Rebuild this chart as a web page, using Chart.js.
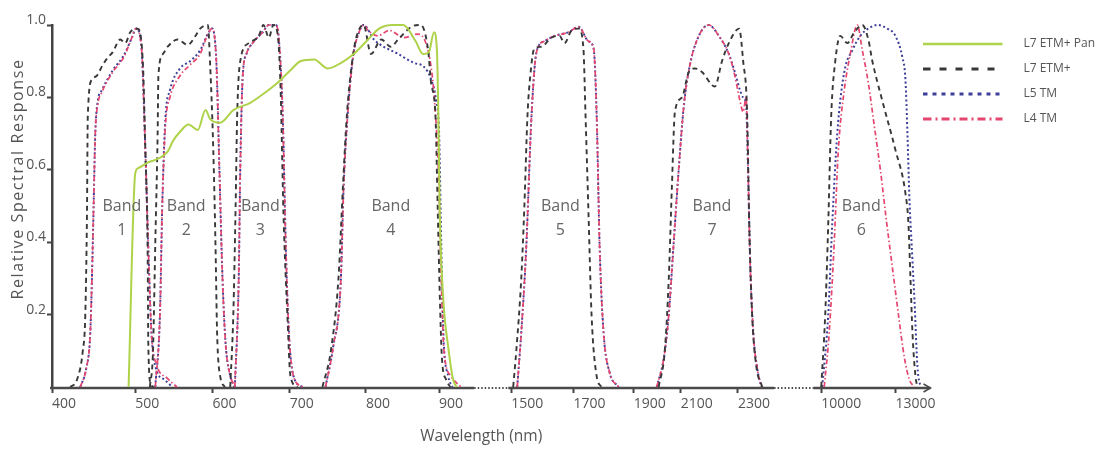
<!DOCTYPE html>
<html>
<head>
<meta charset="utf-8">
<title>Relative Spectral Response</title>
<script src="https://cdn.jsdelivr.net/npm/chart.js@4.4.1/dist/chart.umd.min.js"></script>
<style>
  html, body { margin: 0; padding: 0; background: #fff; }
  canvas { display: block; }
</style>
</head>
<body>
<canvas id="myChart" width="1105" height="450"></canvas>
<script>
// broken wavelength axis: labelled ticks and where they sit along the axis
const xTickNm = [400, 500, 600, 700, 800, 900, 1500, 1700, 1900, 2100, 2300, 10000, 13000];
const xTickPos = [0, 83, 160, 237, 313, 386, 458, 520, 580, 627, 684, 767, 841];
// the two dotted stretches of the axis (start nm, end nm, ...)
const breakNm = [950, 1490, 2425, 9676];
const breakPos = [421, 455, 720, 759];
const AXIS_END = 876;

// band captions
const bandNames = ["1", "2", "3", "4", "5", "7", "6"];
const bandLabelNm = [484, 566, 662, 834, 1658, 2209, 11620];

// [wavelength nm, relative response]
const panBands = [
  [[492, 0], [500, 0.59], [504, 0.605], [516, 0.62], [529, 0.63], [542, 0.65], [549, 0.68], [558, 0.705],
   [569, 0.725], [581, 0.71], [591, 0.765], [597, 0.74], [610, 0.73], [627, 0.765], [649, 0.785], [666, 0.81],
   [684, 0.84], [701, 0.875], [714, 0.9], [732, 0.905], [750, 0.88], [767, 0.895], [784, 0.92], [803, 0.96],
   [818, 0.99], [837, 1.0], [851, 1.0], [868, 0.955], [878, 0.92], [886, 0.925], [893, 0.98], [897, 0.93],
   [899, 0.75], [901, 0.475], [906, 0.24], [913, 0.11], [920, 0.02], [925, 0]],
];

const etmBands = [
  [[422, 0], [430, 0.02], [437, 0.1], [440, 0.2], [442, 0.475], [443, 0.75], [448, 0.85], [454, 0.86],
   [461, 0.89], [467, 0.91], [473, 0.925], [482, 0.96], [488, 0.95], [494, 0.98], [503, 0.99], [510, 0.89],
   [513, 0.66], [516, 0.38], [517, 0.11], [520, 0.01], [524, 0]],
  [[519, 0], [523, 0.1], [526, 0.4], [529, 0.7], [530, 0.86], [536, 0.92], [542, 0.94], [555, 0.96],
   [568, 0.945], [578, 0.97], [584, 0.99], [594, 1.0], [597, 0.89], [601, 0.66], [604, 0.385], [606, 0.15],
   [610, 0.03], [616, 0]],
  [[623, 0], [627, 0.2], [630, 0.5], [632, 0.75], [636, 0.9], [647, 0.95], [660, 0.97], [666, 1.0],
   [673, 0.965], [679, 1.0], [684, 0.98], [688, 0.84], [692, 0.475], [697, 0.2], [701, 0.03], [710, 0]],
  [[743, 0], [754, 0.1], [764, 0.3], [770, 0.56], [775, 0.75], [782, 0.9], [788, 0.97], [797, 1.0],
   [807, 0.92], [821, 0.96], [834, 0.94], [844, 0.96], [862, 0.995], [875, 1.0], [885, 0.93], [889, 0.84],
   [895, 0.75], [898, 0.5], [901, 0.25], [904, 0.08], [910, 0.02], [916, 0]],
  [[1506, 0], [1516, 0.1], [1532, 0.3], [1542, 0.5], [1552, 0.75], [1561, 0.86], [1574, 0.935], [1597, 0.94],
   [1629, 0.965], [1655, 0.97], [1671, 0.95], [1694, 0.985], [1717, 0.99], [1733, 0.935], [1740, 0.75],
   [1750, 0.475], [1760, 0.2], [1777, 0.03], [1793, 0]],
  [[2006, 0], [2032, 0.1], [2049, 0.3], [2062, 0.55], [2075, 0.76], [2104, 0.8], [2128, 0.87], [2149, 0.88],
   [2174, 0.87], [2219, 0.83], [2244, 0.9], [2268, 0.95], [2304, 0.99], [2318, 0.9], [2332, 0.75],
   [2339, 0.45], [2349, 0.2], [2363, 0.06], [2384, 0]],
  [[10000, 0], [10162, 0.2], [10284, 0.45], [10405, 0.75], [10568, 0.9], [10770, 0.97], [11054, 0.95],
   [11338, 0.98], [11662, 1.0], [11905, 0.96], [12068, 0.9], [12473, 0.79], [13000, 0.655], [13405, 0.535],
   [13527, 0.45], [13608, 0.3], [13689, 0.15], [13810, 0.03], [13891, 0]],
];

const l5Bands = [
  [[434, 0], [441, 0.05], [446, 0.15], [448, 0.3], [450, 0.5], [452, 0.7], [455, 0.79], [460, 0.82],
   [473, 0.875], [486, 0.915], [496, 0.965], [501, 0.99], [508, 0.94], [513, 0.66], [517, 0.38], [521, 0.15],
   [527, 0.05], [538, 0.02], [548, 0]],
  [[526, 0], [532, 0.2], [535, 0.5], [539, 0.74], [545, 0.82], [558, 0.88], [571, 0.9], [584, 0.93],
   [594, 0.975], [599, 0.99], [605, 0.9], [609, 0.6], [613, 0.3], [617, 0.12], [622, 0.04], [628, 0]],
  [[629, 0], [634, 0.3], [636, 0.6], [639, 0.85], [644, 0.92], [652, 0.95], [665, 0.98], [673, 1.0],
   [682, 1.0], [686, 0.96], [691, 0.75], [695, 0.385], [699, 0.15], [705, 0.03], [717, 0]],
  [[747, 0], [757, 0.11], [767, 0.29], [771, 0.565], [776, 0.75], [783, 0.91], [791, 0.98], [797, 1.0],
   [811, 0.96], [844, 0.92], [866, 0.895], [879, 0.885], [889, 0.85], [896, 0.79], [900, 0.7], [903, 0.4],
   [906, 0.15], [913, 0.03], [919, 0]],
  [[1519, 0], [1532, 0.15], [1548, 0.385], [1565, 0.75], [1581, 0.925], [1606, 0.955], [1639, 0.97],
   [1684, 0.98], [1717, 0.995], [1750, 0.955], [1767, 0.935], [1777, 0.75], [1787, 0.385], [1800, 0.15],
   [1820, 0.04], [1850, 0]],
  [[1998, 0], [2028, 0.08], [2049, 0.2], [2070, 0.4], [2091, 0.6], [2111, 0.78], [2132, 0.89], [2163, 0.97],
   [2198, 1.0], [2233, 0.97], [2268, 0.92], [2289, 0.87], [2307, 0.82], [2318, 0.8], [2328, 0.78],
   [2335, 0.6], [2342, 0.35], [2353, 0.15], [2367, 0.05], [2381, 0]],
  [[10041, 0], [10284, 0.2], [10446, 0.45], [10649, 0.7], [10932, 0.87], [11257, 0.93], [11581, 0.97],
   [11905, 0.99], [12270, 1.0], [12675, 0.99], [13000, 0.97], [13283, 0.91], [13405, 0.85], [13486, 0.7],
   [13567, 0.52], [13689, 0.35], [13770, 0.24], [13891, 0.055], [14013, 0]],
];

const l4Bands = [
  [[434, 0], [441, 0.05], [446, 0.15], [448, 0.3], [450, 0.5], [452, 0.7], [455, 0.78], [460, 0.815],
   [473, 0.87], [486, 0.91], [496, 0.965], [501, 0.99], [508, 0.94], [513, 0.66], [517, 0.38], [521, 0.15],
   [528, 0.06], [541, 0.025], [554, 0]],
  [[526, 0], [532, 0.2], [535, 0.5], [539, 0.72], [545, 0.8], [558, 0.86], [571, 0.89], [584, 0.92],
   [594, 0.975], [599, 0.99], [605, 0.9], [609, 0.6], [613, 0.3], [617, 0.12], [622, 0.04], [629, 0]],
  [[629, 0], [634, 0.3], [636, 0.6], [639, 0.85], [644, 0.92], [652, 0.95], [665, 0.98], [673, 1.0],
   [682, 1.0], [686, 0.96], [691, 0.75], [695, 0.385], [699, 0.15], [705, 0.03], [717, 0]],
  [[747, 0], [757, 0.11], [767, 0.29], [771, 0.565], [776, 0.75], [783, 0.91], [791, 0.98], [797, 1.0],
   [803, 0.985], [816, 0.97], [832, 0.985], [852, 0.965], [871, 0.975], [882, 0.95], [889, 0.885],
   [893, 0.81], [899, 0.6], [903, 0.3], [907, 0.1], [917, 0.03], [931, 0]],
  [[1519, 0], [1532, 0.15], [1548, 0.385], [1565, 0.75], [1581, 0.925], [1606, 0.955], [1639, 0.97],
   [1684, 0.98], [1717, 0.995], [1750, 0.955], [1767, 0.935], [1777, 0.75], [1787, 0.385], [1800, 0.15],
   [1820, 0.04], [1850, 0]],
  [[1998, 0], [2028, 0.08], [2049, 0.2], [2070, 0.4], [2091, 0.6], [2111, 0.78], [2132, 0.89], [2163, 0.97],
   [2198, 1.0], [2233, 0.97], [2268, 0.92], [2289, 0.86], [2307, 0.79], [2318, 0.76], [2328, 0.8],
   [2335, 0.6], [2342, 0.35], [2353, 0.15], [2367, 0.05], [2381, 0]],
  [[10122, 0], [10324, 0.15], [10527, 0.4], [10689, 0.65], [10932, 0.82], [11176, 0.92], [11459, 1.0],
   [11662, 0.93], [11905, 0.84], [12149, 0.72], [12392, 0.6], [12635, 0.46], [12878, 0.33], [13122, 0.2],
   [13365, 0.08], [13567, 0.02], [13770, 0]],
];

Chart.defaults.font.family = "'Open Sans', sans-serif";

// wavelength -> position along the broken axis
const anchors = xTickNm.map((nm, i) => [nm, xTickPos[i]])
  .concat(breakNm.map((nm, i) => [nm, breakPos[i]]))
  .sort((a, b) => a[0] - b[0]);

function toAxis(nm) {
  let i = 1;
  while (i < anchors.length - 1 && nm > anchors[i][0]) i++;
  const [n0, p0] = anchors[i - 1];
  const [n1, p1] = anchors[i];
  return p0 + (nm - n0) * (p1 - p0) / (n1 - n0);
}

function toPoints(bands) {
  const pts = [];
  bands.forEach((band) => {
    band.forEach(([nm, r]) => pts.push({ x: toAxis(nm), y: r }));
    pts.push({ x: toAxis(band[band.length - 1][0]) + 1, y: null });
  });
  return pts;
}

// little line sample for the legend, drawn with the dataset's own style
function legendSwatch(ds) {
  const c = document.createElement("canvas");
  c.width = 94;
  c.height = 12;
  const g = c.getContext("2d");
  g.strokeStyle = ds.borderColor;
  g.lineWidth = ds.swatchWidth;
  g.setLineDash(ds.swatchDash);
  g.beginPath();
  g.moveTo(0, 6);
  g.lineTo(79, 6);
  g.stroke();
  return c;
}

const decorations = {
  id: "decorations",
  beforeDatasetsDraw(chart) {
    const { ctx, scales: { x, y } } = chart;
    const base = y.getPixelForValue(0) + 1;
    const stops = [0, ...breakPos, AXIS_END];
    ctx.save();
    ctx.strokeStyle = "#4a4a4a";
    for (let i = 0; i < stops.length - 1; i++) {
      ctx.lineWidth = i % 2 ? 2 : 2.5;
      ctx.setLineDash(i % 2 ? [1.5, 2] : []);
      ctx.beginPath();
      ctx.moveTo(x.getPixelForValue(stops[i]) - (i === 0 ? 2 : 0), base);
      ctx.lineTo(x.getPixelForValue(stops[i + 1]), base);
      ctx.stroke();
    }
    // arrow head
    const end = x.getPixelForValue(AXIS_END);
    ctx.setLineDash([]);
    ctx.lineWidth = 1.5;
    ctx.beginPath();
    ctx.moveTo(end - 7, base - 4);
    ctx.lineTo(end, base);
    ctx.lineTo(end - 7, base + 4);
    ctx.stroke();
    ctx.restore();
  },
  afterDatasetsDraw(chart) {
    const { ctx, scales: { x, y } } = chart;
    ctx.save();
    ctx.fillStyle = "#666";
    ctx.font = "16px 'Open Sans', sans-serif";
    ctx.textAlign = "center";
    ctx.textBaseline = "middle";
    bandNames.forEach((name, i) => {
      const cx = x.getPixelForValue(toAxis(bandLabelNm[i]));
      const cy = y.getPixelForValue(0.5);
      ctx.fillText("Band", cx, cy);
      ctx.fillText(name, cx, cy + 24);
    });
    // y axis title
    ctx.fillStyle = "#555";
    ctx.letterSpacing = "1.6px";
    ctx.translate(18, 179);
    ctx.rotate(-Math.PI / 2);
    ctx.fillText("Relative Spectral Response", 0, 0);
    ctx.restore();
  },
};

const ctx = document.getElementById("myChart").getContext("2d");

const myChart = new Chart(ctx, {
  type: "line",
  data: {
    datasets: [
      {
        label: "L7 ETM+ Pan",
        data: toPoints(panBands),
        borderColor: "#aed24a",
        borderWidth: 2,
        order: 0,
        swatchWidth: 2.5,
        swatchDash: [],
      },
      {
        label: "L7 ETM+",
        data: toPoints(etmBands),
        borderColor: "#383838",
        borderWidth: 1.9,
        borderDash: [5, 4],
        order: 1,
        swatchWidth: 3,
        swatchDash: [7, 9],
      },
      {
        label: "L5 TM",
        data: toPoints(l5Bands),
        borderColor: "#3d3f98",
        borderWidth: 2,
        borderDash: [2, 2.5],
        order: 3,
        swatchWidth: 3,
        swatchDash: [4, 5],
      },
      {
        label: "L4 TM",
        data: toPoints(l4Bands),
        borderColor: "#e5466f",
        borderWidth: 1.7,
        borderDash: [5, 2.5, 1.5, 2.5],
        order: 2,
        swatchWidth: 3,
        swatchDash: [8, 4, 2, 4],
      },
    ],
  },
  options: {
    responsive: false,
    devicePixelRatio: 1,
    animation: false,
    events: [],
    layout: { padding: { top: 25, right: 0, bottom: 0, left: 0 } },
    elements: {
      point: { radius: 0 },
      line: { cubicInterpolationMode: "monotone", fill: false },
    },
    datasets: { line: { clip: false, spanGaps: false } },
    scales: {
      x: {
        type: "linear",
        min: 0,
        max: 856,
        afterFit: (scale) => { scale.height = 63; },
        afterBuildTicks: (scale) => { scale.ticks = xTickPos.map((v) => ({ value: v })); },
        border: { display: false },
        grid: { drawOnChartArea: false, drawTicks: true, tickLength: 6, tickWidth: 2, tickColor: "#444" },
        ticks: {
          align: "start",
          autoSkip: false,
          maxRotation: 0,
          padding: 3,
          color: "#555",
          font: { size: 14 },
          callback: (value, index) => String(xTickNm[index]),
        },
        title: {
          display: true,
          text: "Wavelength (nm)",
          color: "#555",
          font: { size: 15.5 },
          padding: { top: 0, bottom: 4 },
        },
      },
      y: {
        min: 0,
        max: 1,
        afterFit: (scale) => { scale.width = 52; },
        border: { display: true, color: "#444", width: 2.5 },
        grid: {
          drawOnChartArea: false,
          tickLength: 5,
          tickWidth: 2,
          tickColor: (c) => (c.tick && c.tick.value === 0 ? "rgba(0,0,0,0)" : "#444"),
        },
        ticks: {
          stepSize: 0.2,
          padding: 1,
          labelOffset: -5,
          color: "#555",
          font: { size: 14 },
          callback: (value) => (value === 0 ? "" : value.toFixed(1)),
        },
      },
    },
    plugins: {
      tooltip: { enabled: false },
      legend: {
        position: "right",
        align: "start",
        labels: {
          usePointStyle: true,
          pointStyleWidth: 94,
          padding: 13,
          color: "#555",
          font: { size: 12 },
          generateLabels: (chart) =>
            chart.data.datasets.map((ds, i) => ({
              text: ds.label,
              datasetIndex: i,
              pointStyle: legendSwatch(ds),
              fillStyle: "rgba(0,0,0,0)",
              strokeStyle: "rgba(0,0,0,0)",
              lineWidth: 0,
              hidden: false,
              fontColor: "#555",
            })),
        },
      },
    },
  },
  plugins: [decorations],
});
</script>
</body>
</html>
